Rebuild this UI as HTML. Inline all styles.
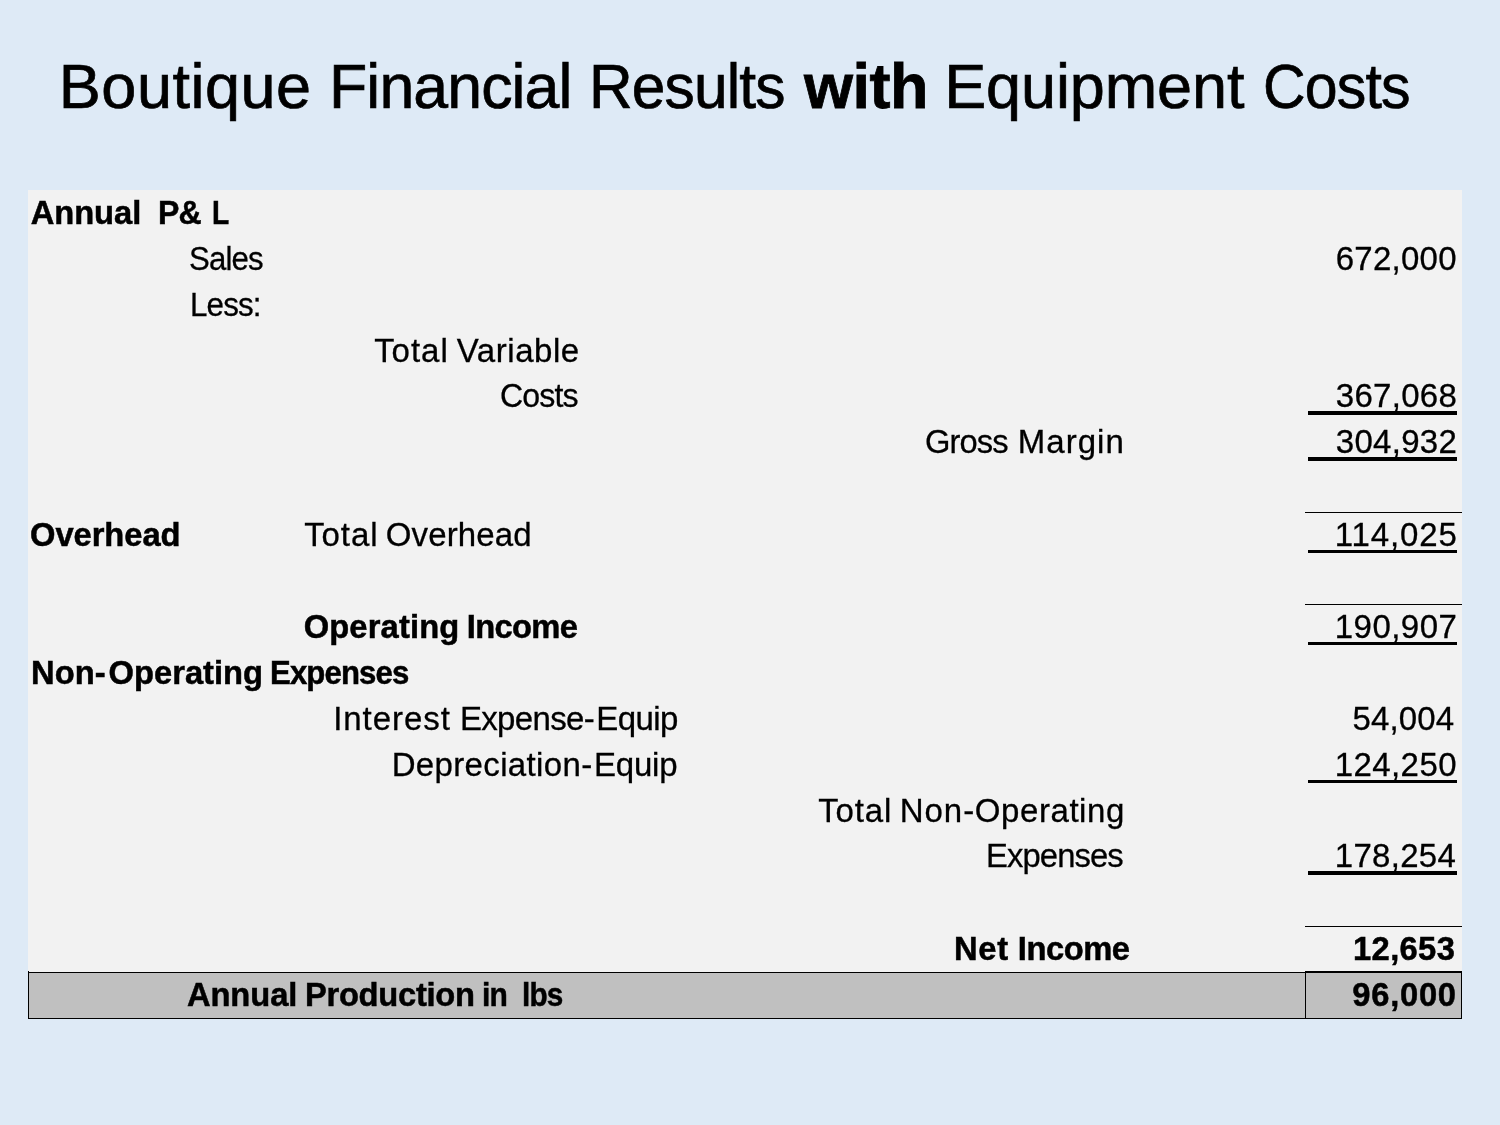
<!DOCTYPE html>
<html lang="en">
<head>
<meta charset="utf-8">
<title>Boutique Financial Results with Equipment Costs</title>
<style>
html,body{margin:0;padding:0;}
body{width:1500px;height:1125px;position:relative;overflow:hidden;background:#deeaf6;font-family:"Liberation Sans",sans-serif;color:#000;}
.tbl{position:absolute;left:28px;top:190px;width:1434px;height:829px;background:#f2f2f2;}
.foot{position:absolute;left:28px;top:972px;width:1434px;height:47px;box-sizing:border-box;background:#c0c0c0;border:1px solid #000;}
.vdiv{position:absolute;left:1305px;top:971px;width:1px;height:48px;background:#000;}
.hl{position:absolute;left:1305px;width:157px;height:1px;background:#000;}
.ul{position:absolute;left:1308px;width:149px;height:4px;background:#000;}
.t{position:absolute;white-space:pre;line-height:1;margin:0;padding:0;transform-origin:0 0;}
.b{font-weight:bold;}
.g{margin:0;padding:0;font-size:0;font-weight:normal;line-height:0;}
</style>
</head>
<body>
<div class="tbl"></div>
<div class="foot"></div>
<div class="vdiv"></div>
<div class="hl" style="top:971px"></div>
<div style="position:absolute;left:28px;top:971px;width:1px;height:1px;background:#000"></div>
<div class="hl" style="top:512px"></div>
<div class="hl" style="top:604px"></div>
<div class="hl" style="top:926px"></div>
<div class="ul" style="top:411px"></div>
<div class="ul" style="top:457px"></div>
<div class="ul" style="top:550px;height:3px"></div>
<div class="ul" style="top:642px;height:3px"></div>
<div class="ul" style="top:780px;height:3px"></div>
<div class="ul" style="top:871px"></div>
<h1 class="g">
<span class="t" style="left:58.85px;top:55.00px;font-size:63.0px;letter-spacing:0.490px;-webkit-text-stroke:0.7px #000">Boutique</span>
<span class="t" style="left:328.68px;top:55.00px;font-size:63.0px;letter-spacing:-0.900px;transform:scaleX(0.9940);-webkit-text-stroke:0.7px #000">Financial</span>
<span class="t" style="left:588.85px;top:55.00px;font-size:63.0px;letter-spacing:-0.900px;transform:scaleX(0.9598);-webkit-text-stroke:0.7px #000">Results</span>
<span class="t b" style="left:804.10px;top:55.00px;font-size:63.0px;letter-spacing:-0.562px;-webkit-text-stroke:0.8px #000">with</span>
<span class="t" style="left:944.15px;top:55.00px;font-size:63.0px;letter-spacing:-0.111px;-webkit-text-stroke:0.7px #000">Equipment</span>
<span class="t" style="left:1262.84px;top:55.00px;font-size:63.0px;letter-spacing:-0.900px;transform:scaleX(0.9370);-webkit-text-stroke:0.7px #000">Costs</span>
</h1>
<div class="g">
<span class="t b" style="left:30.65px;top:197.00px;font-size:32.7px;letter-spacing:-0.037px;-webkit-text-stroke:0.5px #000">Annual</span>
<span class="t b" style="left:157.69px;top:197.00px;font-size:32.7px;letter-spacing:-0.900px;transform:scaleX(0.9809);-webkit-text-stroke:0.5px #000">P&amp;</span>
<span class="t b" style="left:212.47px;top:197.00px;font-size:32.7px;transform:scaleX(0.8600);-webkit-text-stroke:0.5px #000">L</span>
</div>
<div class="g">
<span class="t" style="left:189.21px;top:242.00px;font-size:33.0px;letter-spacing:-0.900px;transform:scaleX(0.9439);-webkit-text-stroke:0.3px #000">Sales</span>
</div>
<div class="g">
<span class="t" style="left:189.85px;top:288.00px;font-size:33.0px;letter-spacing:-0.900px;transform:scaleX(0.9493);-webkit-text-stroke:0.3px #000">Less:</span>
</div>
<div class="g">
<span class="t" style="left:374.15px;top:334.00px;font-size:33.0px;letter-spacing:0.981px;-webkit-text-stroke:0.3px #000">Total</span>
<span class="t" style="left:456.75px;top:334.00px;font-size:33.0px;letter-spacing:0.547px;-webkit-text-stroke:0.3px #000">Variable</span>
</div>
<div class="g">
<span class="t" style="left:499.78px;top:379.00px;font-size:33.0px;letter-spacing:-0.900px;transform:scaleX(0.9728);-webkit-text-stroke:0.3px #000">Costs</span>
</div>
<div class="g">
<span class="t" style="left:924.76px;top:425.00px;font-size:33.0px;letter-spacing:-0.900px;transform:scaleX(0.9902);-webkit-text-stroke:0.3px #000">Gross</span>
<span class="t" style="left:1017.75px;top:425.00px;font-size:33.0px;letter-spacing:1.037px;-webkit-text-stroke:0.3px #000">Margin</span>
</div>
<div class="g">
<span class="t b" style="left:30.05px;top:519.00px;font-size:32.7px;letter-spacing:-0.047px;-webkit-text-stroke:0.5px #000">Overhead</span>
<span class="t" style="left:304.15px;top:518.00px;font-size:33.0px;letter-spacing:0.931px;-webkit-text-stroke:0.3px #000">Total</span>
<span class="t" style="left:385.75px;top:518.00px;font-size:33.0px;letter-spacing:0.133px;-webkit-text-stroke:0.3px #000">Overhead</span>
</div>
<div class="g">
<span class="t b" style="left:303.65px;top:611.00px;font-size:32.7px;letter-spacing:0.162px;-webkit-text-stroke:0.5px #000">Operating</span>
<span class="t b" style="left:466.85px;top:611.00px;font-size:32.7px;letter-spacing:-0.672px;-webkit-text-stroke:0.5px #000">Income</span>
</div>
<div class="g">
<span class="t b" style="left:31.05px;top:657.00px;font-size:32.7px;letter-spacing:0.087px;-webkit-text-stroke:0.5px #000">Non-</span>
<span class="t b" style="left:108.55px;top:657.00px;font-size:32.7px;letter-spacing:0.012px;-webkit-text-stroke:0.5px #000">Operating</span>
<span class="t b" style="left:270.35px;top:657.00px;font-size:32.7px;letter-spacing:-0.900px;transform:scaleX(0.9521);-webkit-text-stroke:0.5px #000">Expenses</span>
</div>
<div class="g">
<span class="t" style="left:333.15px;top:702.00px;font-size:33.0px;letter-spacing:0.974px;-webkit-text-stroke:0.3px #000">Interest</span>
<span class="t" style="left:459.95px;top:702.00px;font-size:33.0px;letter-spacing:-0.675px;-webkit-text-stroke:0.3px #000">Expense-</span>
<span class="t" style="left:596.35px;top:702.00px;font-size:33.0px;letter-spacing:-0.587px;-webkit-text-stroke:0.3px #000">Equip</span>
</div>
<div class="g">
<span class="t" style="left:391.65px;top:748.00px;font-size:33.0px;letter-spacing:0.352px;-webkit-text-stroke:0.3px #000">Depreciation-</span>
<span class="t" style="left:593.95px;top:748.00px;font-size:33.0px;letter-spacing:-0.187px;-webkit-text-stroke:0.3px #000">Equip</span>
</div>
<div class="g">
<span class="t" style="left:818.25px;top:794.00px;font-size:33.0px;letter-spacing:0.856px;-webkit-text-stroke:0.3px #000">Total</span>
<span class="t" style="left:899.65px;top:794.00px;font-size:33.0px;letter-spacing:1.021px;-webkit-text-stroke:0.3px #000">Non-</span>
<span class="t" style="left:974.85px;top:794.00px;font-size:33.0px;letter-spacing:0.566px;-webkit-text-stroke:0.3px #000">Operating</span>
</div>
<div class="g">
<span class="t" style="left:985.76px;top:839.00px;font-size:33.0px;letter-spacing:-0.900px;transform:scaleX(0.9932);-webkit-text-stroke:0.3px #000">Expenses</span>
</div>
<div class="g">
<span class="t b" style="left:953.95px;top:933.00px;font-size:32.7px;letter-spacing:0.757px;-webkit-text-stroke:0.5px #000">Net</span>
<span class="t b" style="left:1017.85px;top:933.00px;font-size:32.7px;letter-spacing:-0.472px;-webkit-text-stroke:0.5px #000">Income</span>
</div>
<div class="g">
<span class="t b" style="left:186.95px;top:979.00px;font-size:32.7px;letter-spacing:-0.077px;-webkit-text-stroke:0.5px #000">Annual</span>
<span class="t b" style="left:304.95px;top:979.00px;font-size:32.7px;letter-spacing:-0.271px;-webkit-text-stroke:0.5px #000">Production</span>
<span class="t b" style="left:482.41px;top:979.00px;font-size:32.7px;letter-spacing:-0.900px;transform:scaleX(0.9181);-webkit-text-stroke:0.5px #000">in</span>
<span class="t b" style="left:521.63px;top:979.00px;font-size:32.7px;letter-spacing:-0.900px;transform:scaleX(0.9089);-webkit-text-stroke:0.5px #000">lbs</span>
</div>
<div class="g num"><span class="t" style="left:1335.75px;top:242.00px;font-size:33.0px;letter-spacing:0.244px;-webkit-text-stroke:0.3px #000">672,000</span></div>
<div class="g num"><span class="t" style="left:1335.75px;top:379.00px;font-size:33.0px;letter-spacing:0.294px;-webkit-text-stroke:0.3px #000">367,068</span></div>
<div class="g num"><span class="t" style="left:1335.75px;top:425.00px;font-size:33.0px;letter-spacing:0.294px;-webkit-text-stroke:0.3px #000">304,932</span></div>
<div class="g num"><span class="t" style="left:1334.75px;top:518.00px;font-size:33.0px;letter-spacing:0.869px;-webkit-text-stroke:0.3px #000">114,025</span></div>
<div class="g num"><span class="t" style="left:1334.75px;top:610.00px;font-size:33.0px;letter-spacing:0.461px;-webkit-text-stroke:0.3px #000">190,907</span></div>
<div class="g num"><span class="t" style="left:1352.45px;top:702.00px;font-size:33.0px;letter-spacing:0.144px;-webkit-text-stroke:0.3px #000">54,004</span></div>
<div class="g num"><span class="t" style="left:1334.75px;top:748.00px;font-size:33.0px;letter-spacing:0.411px;-webkit-text-stroke:0.3px #000">124,250</span></div>
<div class="g num"><span class="t" style="left:1334.75px;top:839.00px;font-size:33.0px;letter-spacing:0.294px;-webkit-text-stroke:0.3px #000">178,254</span></div>
<div class="g num"><span class="t b" style="left:1353.05px;top:933.00px;font-size:32.7px;letter-spacing:0.360px;-webkit-text-stroke:0.5px #000">12,653</span></div>
<div class="g num"><span class="t b" style="left:1352.25px;top:979.00px;font-size:32.7px;letter-spacing:0.760px;-webkit-text-stroke:0.5px #000">96,000</span></div>
</body>
</html>
